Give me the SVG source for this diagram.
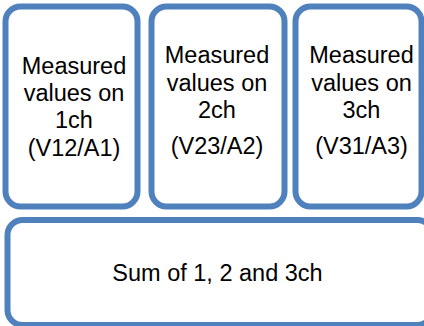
<svg xmlns="http://www.w3.org/2000/svg" width="424" height="326" viewBox="0 0 424 326">
<style>
.box{fill:#fff;stroke:#4F81BD;stroke-width:6}
text{font-family:"Liberation Sans",Arial,sans-serif;font-size:23.5px;fill:#000;text-anchor:middle}
</style>
<rect width="424" height="326" fill="#fff"/>
<g id="connectors"></g>
<g id="node1">
<rect class="box" x="5.5" y="6.5" width="132" height="200" rx="15"/>
<text x="74" y="74">Measured</text>
<text x="74" y="101">values on</text>
<text x="74" y="128">1ch</text>
<text x="74" y="156">(V12/A1)</text>
</g>
<g id="node2">
<rect class="box" x="151.5" y="6.5" width="133" height="200" rx="15"/>
<text x="217" y="63">Measured</text>
<text x="217" y="90.5">values on</text>
<text x="217" y="118">2ch</text>
<text x="217" y="153.5">(V23/A2)</text>
</g>
<g id="node3">
<rect class="box" x="295.5" y="6.5" width="126" height="200" rx="15"/>
<text x="361.5" y="63">Measured</text>
<text x="361.5" y="90.5">values on</text>
<text x="361.5" y="118">3ch</text>
<text x="361.5" y="153.5">(V31/A3)</text>
</g>
<g id="node4">
<rect class="box" x="7.5" y="220" width="425" height="105" rx="15"/>
<text x="217.5" y="281">Sum of 1, 2 and 3ch</text>
</g>
</svg>
